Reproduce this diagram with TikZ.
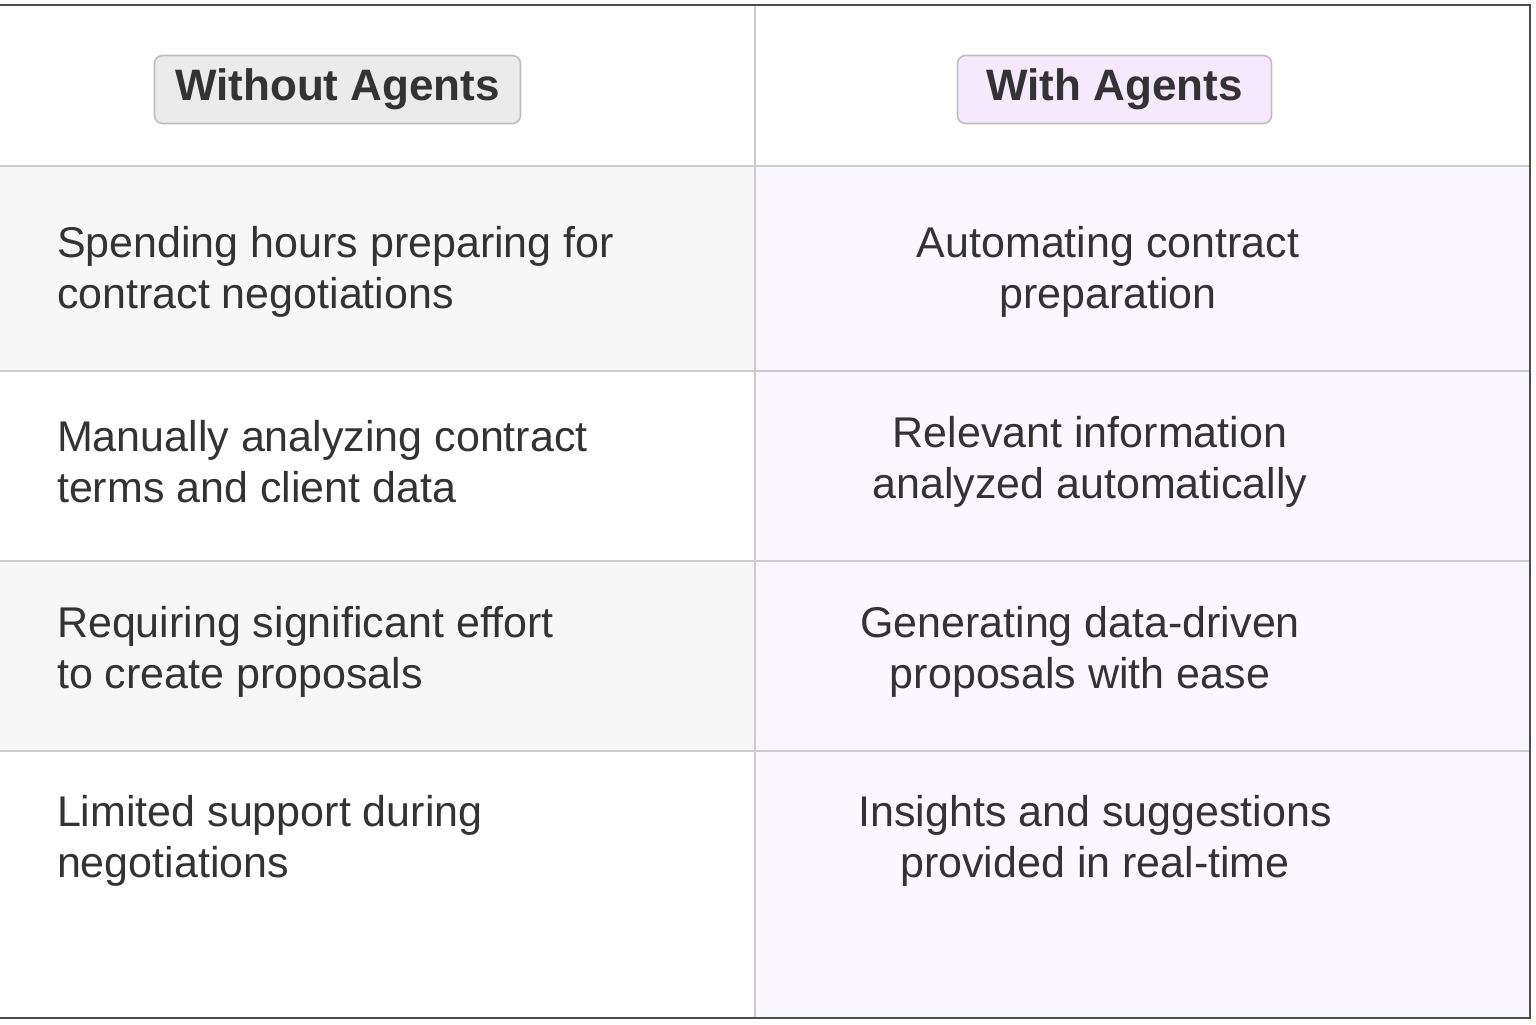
\documentclass[tikz,border=0pt]{standalone}
\usepackage{fontspec}
\setmainfont{Liberation Sans}
\definecolor{lav}{RGB}{250,247,254}
\definecolor{lavh}{RGB}{245,234,253}
\begin{document}
\begin{tikzpicture}[x=0.5pt,y=-0.5pt,
  cell/.style={font=\fontsize{21.5}{25.5}\selectfont, text=black!80, align=left, anchor=west},
  rcell/.style={font=\fontsize{21.5}{25.5}\selectfont, text=black!80, align=center},
  hdr/.style={font=\bfseries\fontsize{22}{24}\selectfont, text=black!80, draw=black!25, rounded corners=4pt, line width=0.8pt, minimum height=34pt, inner xsep=6pt}]
\useasboundingbox (0,0) rectangle (1536,1024);
\fill[white] (0,0) rectangle (1536,1024);
\fill[black!3] (0,166) rectangle (755,371);
\fill[black!3] (0,561) rectangle (755,751);
\fill[lav] (755,166) rectangle (1530,1018);
\draw[black!20, line width=0.7pt] (0,166) -- (1530,166) (0,371) -- (1530,371) (0,561) -- (1530,561) (0,751) -- (1530,751);
\draw[black!20, line width=0.7pt] (755,5) -- (755,1018);
\draw[black!70, line width=0.8pt] (0,5) -- (1530,5) -- (1530,1018) -- (0,1018);
\node[hdr, fill=black!8, minimum width=183pt] (h1) at (337.5,89.5) {Without Agents};
\node[hdr, fill=lavh, minimum width=157pt] (h2) at (1114.5,89.5) {With Agents};
\node[cell] (l1) at (50,272) {Spending hours preparing for\\contract negotiations};
\node[cell] (l2) at (50,462) {Manually analyzing contract\\terms and client data};
\node[cell] (l3) at (50,652) {Requiring significant effort\\to create proposals};
\node[cell] (l4) at (50,841) {Limited support during\\negotiations};
\node[rcell] (r1) at (1108,272) {Automating contract\\preparation};
\node[rcell] (r2) at (1090,462) {Relevant information\\analyzed automatically};
\node[rcell] (r3) at (1080,652) {Generating data-driven\\proposals with ease};
\node[rcell] (r4) at (1095,841) {Insights and suggestions\\provided in real-time};
\end{tikzpicture}
\end{document}
